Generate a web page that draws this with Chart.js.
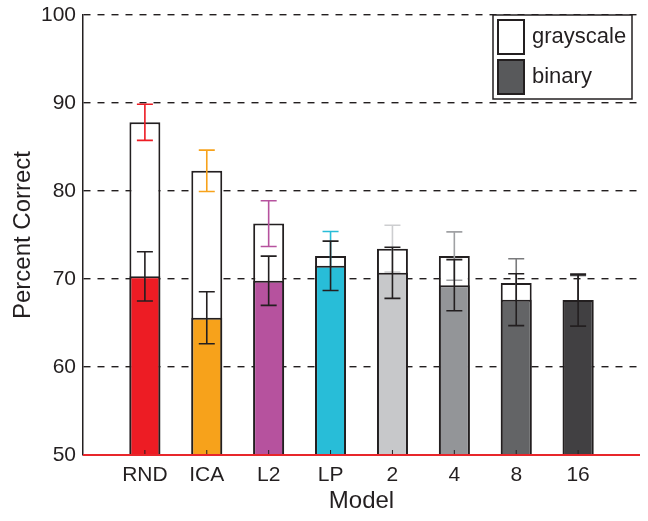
<!DOCTYPE html>
<html>
<head>
<meta charset="utf-8">
<script src="https://cdn.jsdelivr.net/npm/chart.js@4/dist/chart.umd.min.js"></script>
<style>
  html, body { margin: 0; padding: 0; background: #fff; }
  #wrap { width: 648px; height: 521px; }
</style>
</head>
<body>
<div id="wrap"><canvas id="bars"></canvas></div>
<script>
// values
const models = ['RND', 'ICA', 'L2', 'LP', '2', '4', '8', '16'];
const grayscale = [87.8, 82.3, 76.3, 72.6, 73.45, 72.6, 69.55, 67.6];
const grayscaleErr = [2.05, 2.35, 2.6, 2.8, 2.65, 2.75, 2.75, 2.8];
const binary = [70.3, 65.6, 69.8, 71.5, 70.7, 69.3, 67.65, 67.6];
const binaryErr = [2.8, 2.95, 2.8, 2.8, 2.9, 2.9, 2.95, 2.95];
const yTicks = [50, 60, 70, 80, 90, 100];

const barColors = ['#ED1C24', '#F7A21B', '#B6529E', '#28BDD8', '#C7C8CA', '#939598', '#636466', '#414042'];
const grayErrColors = ['#ED1C24', '#F7A21B', '#B6529E', '#28BDD8', '#CDCED0', '#A0A1A4', '#7A7B7D', '#414042'];
const ink = '#231F20';
const font = "'Liberation Sans', Arial, sans-serif";

function getErrors(index) {
    if (index === 0) {
        return { vals: binary, errs: binaryErr, colors: models.map(() => ink) };
    }
    return { vals: grayscale, errs: grayscaleErr, colors: grayErrColors };
}

const errorBars = {
    id: 'errorBars',
    afterDatasetDraw(chart, args) {
        const { ctx } = chart;
        const yScale = chart.scales.y;
        const e = getErrors(args.index);
        ctx.save();
        ctx.lineWidth = 1.6;
        args.meta.data.forEach((bar, i) => {
            const top = yScale.getPixelForValue(e.vals[i] + e.errs[i]);
            const bot = yScale.getPixelForValue(e.vals[i] - e.errs[i]);
            ctx.strokeStyle = e.colors[i];
            ctx.beginPath();
            ctx.moveTo(bar.x, top); ctx.lineTo(bar.x, bot);
            ctx.moveTo(bar.x - 8, top); ctx.lineTo(bar.x + 8, top);
            ctx.moveTo(bar.x - 8, bot); ctx.lineTo(bar.x + 8, bot);
            ctx.stroke();
        });
        ctx.restore();
    },
    afterDraw(chart) {
        const { ctx, chartArea } = chart;
        const base = chart.scales.y.getPixelForValue(50);

        // small inward ticks at the bar centres
        ctx.save();
        ctx.strokeStyle = ink;
        ctx.lineWidth = 1;
        chart.getDatasetMeta(0).data.forEach(bar => {
            ctx.beginPath();
            ctx.moveTo(bar.x, base); ctx.lineTo(bar.x, base - 5);
            ctx.stroke();
        });

        // red baseline
        ctx.strokeStyle = '#E8262B';
        ctx.lineWidth = 2;
        ctx.beginPath();
        ctx.moveTo(chartArea.left, base); ctx.lineTo(chartArea.right, base);
        ctx.stroke();

        // legend box
        const bx = chartArea.right - 147, by = chartArea.top, bw = 139, bh = 84;
        ctx.fillStyle = '#fff';
        ctx.fillRect(bx, by, bw, bh);
        ctx.strokeStyle = ink;
        ctx.lineWidth = 1.5;
        ctx.strokeRect(bx, by, bw, bh);
        const items = chart.data.datasets.slice().reverse();
        items.forEach((ds, i) => {
            const sy = by + 5 + i * 40;
            ctx.fillStyle = i === 0 ? '#fff' : '#58595B';
            ctx.fillRect(bx + 5, sy, 26, 34);
            ctx.lineWidth = 2;
            ctx.strokeStyle = ink;
            ctx.strokeRect(bx + 5, sy, 26, 34);
            ctx.fillStyle = ink;
            ctx.font = '22px ' + font;
            ctx.textBaseline = 'middle';
            ctx.textAlign = 'left';
            ctx.fillText(ds.label, bx + 39, sy + 17);
        });
        ctx.restore();
    }
};

function main() {
    const canvas = document.querySelector('#bars');
    new Chart(canvas.getContext('2d'), {
        type: 'bar',
        data: {
            datasets: [{
                label: 'binary',
                data: binary.map((v, i) => ({ x: i + 1, y: v })),
                backgroundColor: barColors,
                borderColor: ink,
                borderWidth: 2,
            }, {
                label: 'grayscale',
                data: grayscale.map((v, i) => ({ x: i + 1, y: v })),
                backgroundColor: '#fff',
                borderColor: ink,
                borderWidth: 2,
            }]
        },
        options: {
            responsive: true,
            maintainAspectRatio: false,
            animation: false,
            grouped: false,
            barPercentage: 0.5,
            categoryPercentage: 1,
            layout: { padding: { top: 15, right: 8, left: 0, bottom: 0 } },
            plugins: { legend: { display: false }, tooltip: { enabled: false } },
            scales: {
                x: {
                    type: 'linear',
                    min: 0,
                    max: 9,
                    offset: false,
                    afterFit: s => { s.height = 66; },
                    afterBuildTicks: s => { s.ticks = models.map((m, i) => ({ value: i + 1 })); },
                    ticks: {
                        callback: v => models[v - 1] || '',
                        autoSkip: false,
                        maxRotation: 0,
                        padding: 8,
                        color: ink,
                        font: { family: font, size: 21 }
                    },
                    grid: { display: false, drawTicks: false },
                    border: { display: false },
                    title: {
                        display: true,
                        text: 'Model',
                        color: ink,
                        padding: { top: 0, bottom: 5 },
                        font: { family: font, size: 24 }
                    }
                },
                y: {
                    min: 50,
                    max: 100,
                    afterFit: s => { s.width = 83; s.paddingTop = 0; s.paddingBottom = 0; },
                    afterBuildTicks: s => { s.ticks = yTicks.map(v => ({ value: v })); },
                    ticks: {
                        padding: 7,
                        color: ink,
                        font: { family: font, size: 21 }
                    },
                    grid: { color: '#231F20', lineWidth: 1.4, drawTicks: false },
                    border: { display: true, color: ink, width: 1.5, dash: [7, 7] },
                    title: {
                        display: true,
                        text: 'Percent Correct',
                        color: ink,
                        padding: { top: 9, bottom: 0 },
                        font: { family: font, size: 24 }
                    }
                }
            }
        },
        plugins: [errorBars]
    });
}

main()
</script>
</body>
</html>
